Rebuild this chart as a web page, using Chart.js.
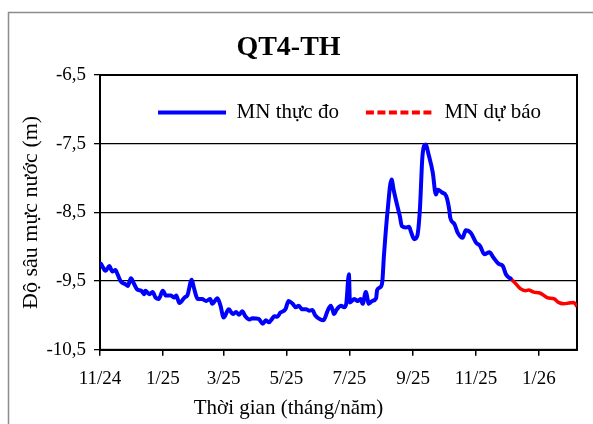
<!DOCTYPE html>
<html>
<head>
<meta charset="utf-8">
<script src="https://cdn.jsdelivr.net/npm/chart.js@4"></script>
<style>
html,body{margin:0;padding:0;background:#fff;}
canvas{display:block;}
</style>
</head>
<body>
<canvas id="c" width="593" height="424"></canvas>
<script>
// ---- data (days since 1 Nov 2024, depth in m) ----
const measuredDay = [1,5.5,9,12,15,17,20,25,27,30,33,36,40,43,44,48,51,54,57,61,64,69,72,74,77,82,85,89,91,95,99,103,107,109,114,117,120,125,129,132,135,138,141,145,148,154,158,161,164,167,169,172,175,180,183,187,190,193,196,200,203,206,209,214,217,221,224,226,227,230,234,237,239,241.6,242.6,247,250,253,255,258,261,264,268,269,272,274,275.5,277,279,283,285,289,291,293,297,300,302,305,308,310.5,313,316,319,323,326,328,332,336,339,340,344,347,352,355,360,365,369,373,378,382,387,391,394,397,398.5];
const measuredDepth = [-9.25,-9.35,-9.28,-9.36,-9.34,-9.40,-9.50,-9.55,-9.57,-9.46,-9.54,-9.62,-9.64,-9.69,-9.64,-9.69,-9.66,-9.74,-9.76,-9.64,-9.71,-9.71,-9.74,-9.71,-9.82,-9.74,-9.70,-9.48,-9.59,-9.76,-9.76,-9.79,-9.76,-9.83,-9.75,-9.86,-10.03,-9.91,-9.98,-9.95,-9.99,-9.94,-10.01,-10.06,-10.04,-10.05,-10.12,-10.07,-10.10,-10.05,-10.01,-10.02,-9.96,-9.91,-9.79,-9.83,-9.88,-9.86,-9.91,-9.91,-9.93,-9.92,-10.00,-10.06,-10.07,-9.93,-9.86,-9.93,-9.98,-9.91,-9.86,-9.88,-9.83,-9.40,-9.81,-9.76,-9.79,-9.76,-9.83,-9.66,-9.83,-9.79,-9.75,-9.63,-9.59,-9.51,-9.15,-8.85,-8.50,-8.02,-8.17,-8.43,-8.55,-8.70,-8.72,-8.71,-8.79,-8.89,-8.84,-8.46,-7.68,-7.51,-7.66,-7.92,-8.24,-8.17,-8.21,-8.26,-8.46,-8.58,-8.67,-8.79,-8.87,-8.76,-8.80,-8.94,-8.99,-9.11,-9.08,-9.16,-9.25,-9.28,-9.40,-9.45,-9.46];
const forecastDay = [398.5,403,408,413,416,421,426,429,434,441,445,450,455,460,463];
const forecastDepth = [-9.46,-9.53,-9.61,-9.64,-9.63,-9.66,-9.67,-9.69,-9.74,-9.76,-9.81,-9.83,-9.82,-9.81,-9.87];
const tickDays = [0,61,120,181,242,304,365,426];
const tickLabels = ['11/24','1/25','3/25','5/25','7/25','9/25','11/25','1/26'];
const seriesNames = ['MN thực đo','MN dự báo'];

const FONT = 'Liberation Serif';
const toXY = (xs, ys) => xs.map((x, i) => ({x: x, y: ys[i]}));

const framePlugin = {
  id: 'frames',
  beforeUpdate(chart) {
    // lay the in-plot legend out as a single horizontal row
    if (chart.legend) chart.legend.isHorizontal = () => true;
  },
  beforeDraw(chart) {
    const ctx = chart.ctx;
    ctx.save();
    ctx.fillStyle = '#fff';
    ctx.fillRect(0, 0, chart.width, chart.height);
    ctx.strokeStyle = '#8c8c8c';
    ctx.lineWidth = 1.5;
    ctx.beginPath();
    ctx.moveTo(8.5, chart.height);
    ctx.lineTo(8.5, 12.5);
    ctx.lineTo(chart.width, 12.5);
    ctx.stroke();
    ctx.restore();
    if (chart.legend) {
      chart.legend.left = chart.chartArea.left + 11;
      chart.legend.right = chart.chartArea.right + 11;
    }
  },
  beforeDatasetsDraw(chart) {
    const a = chart.chartArea, ctx = chart.ctx;
    ctx.save();
    ctx.strokeStyle = '#000';
    ctx.lineWidth = 2;
    ctx.strokeRect(a.left, a.top, a.right - a.left, a.bottom - a.top);
    ctx.restore();
  }
};

new Chart(document.getElementById('c'), {
  type: 'line',
  data: {
    datasets: [
      {label: seriesNames[0], data: toXY(measuredDay, measuredDepth), borderColor: '#0000ff', backgroundColor: '#0000ff', borderWidth: 4, pointRadius: 0, cubicInterpolationMode: 'monotone', borderJoinStyle: 'round', borderCapStyle: 'round'},
      {label: seriesNames[1], data: toXY(forecastDay, forecastDepth), borderColor: '#ff0000', backgroundColor: '#ff0000', borderWidth: 3.5, pointRadius: 0, cubicInterpolationMode: 'monotone', borderJoinStyle: 'round'}
    ]
  },
  options: {
    responsive: false,
    animation: false,
    layout: {padding: {left: 0, right: 16, top: 0, bottom: 0}},
    plugins: {
      title: {display: true, text: 'QT4-TH', color: '#000', font: {family: FONT, size: 28, weight: 'bold'}, padding: {top: 31, bottom: 10.4}},
      subtitle: {display: true, position: 'bottom', text: 'Thời gian (tháng/năm)', color: '#000', font: {family: FONT, size: 21}, padding: {top: 0, bottom: 3}},
      legend: {
        position: 'chartArea', align: 'center',
        labels: {
          usePointStyle: true, pointStyleWidth: 68, color: '#000', padding: 27,
          font: {family: FONT, size: 21},
          generateLabels(chart) {
            return chart.data.datasets.map((ds, i) => ({
              text: ds.label, datasetIndex: i, pointStyle: 'line',
              strokeStyle: ds.borderColor, fillStyle: ds.borderColor, fontColor: '#000',
              lineWidth: 4, lineDash: i === 1 ? [8, 3.5] : [], hidden: false
            }));
          }
        }
      },
      tooltip: {enabled: false}
    },
    scales: {
      x: {
        type: 'linear', min: 0, max: 463,
        afterBuildTicks(s) { s.ticks = tickDays.map(v => ({value: v})); },
        afterFit(s) { s.height = 46; },
        ticks: {
          autoSkip: false, maxRotation: 0, color: '#000', padding: 12,
          font: {family: FONT, size: 19},
          callback(v) { const i = tickDays.indexOf(v); return i >= 0 ? tickLabels[i] : ''; }
        },
        grid: {drawOnChartArea: false, drawTicks: true, tickLength: 6, color: '#000', lineWidth: 1.5},
        border: {display: true, color: '#000', width: 2}
      },
      y: {
        min: -10.5, max: -6.5,
        afterFit(s) { s.width = 100; },
        ticks: {
          stepSize: 1, color: '#000', padding: 8,
          font: {family: FONT, size: 19},
          callback(v) { return v.toFixed(1).replace('.', ','); }
        },
        grid: {color: '#000', lineWidth: 1.3, tickLength: 6, drawTicks: true},
        border: {display: true, color: '#000', width: 2},
        title: {display: true, text: 'Độ sâu mực nước (m)', color: '#000', font: {family: FONT, size: 22}, padding: {top: 18, bottom: 0}}
      }
    }
  },
  plugins: [framePlugin]
});
</script>
</body>
</html>
